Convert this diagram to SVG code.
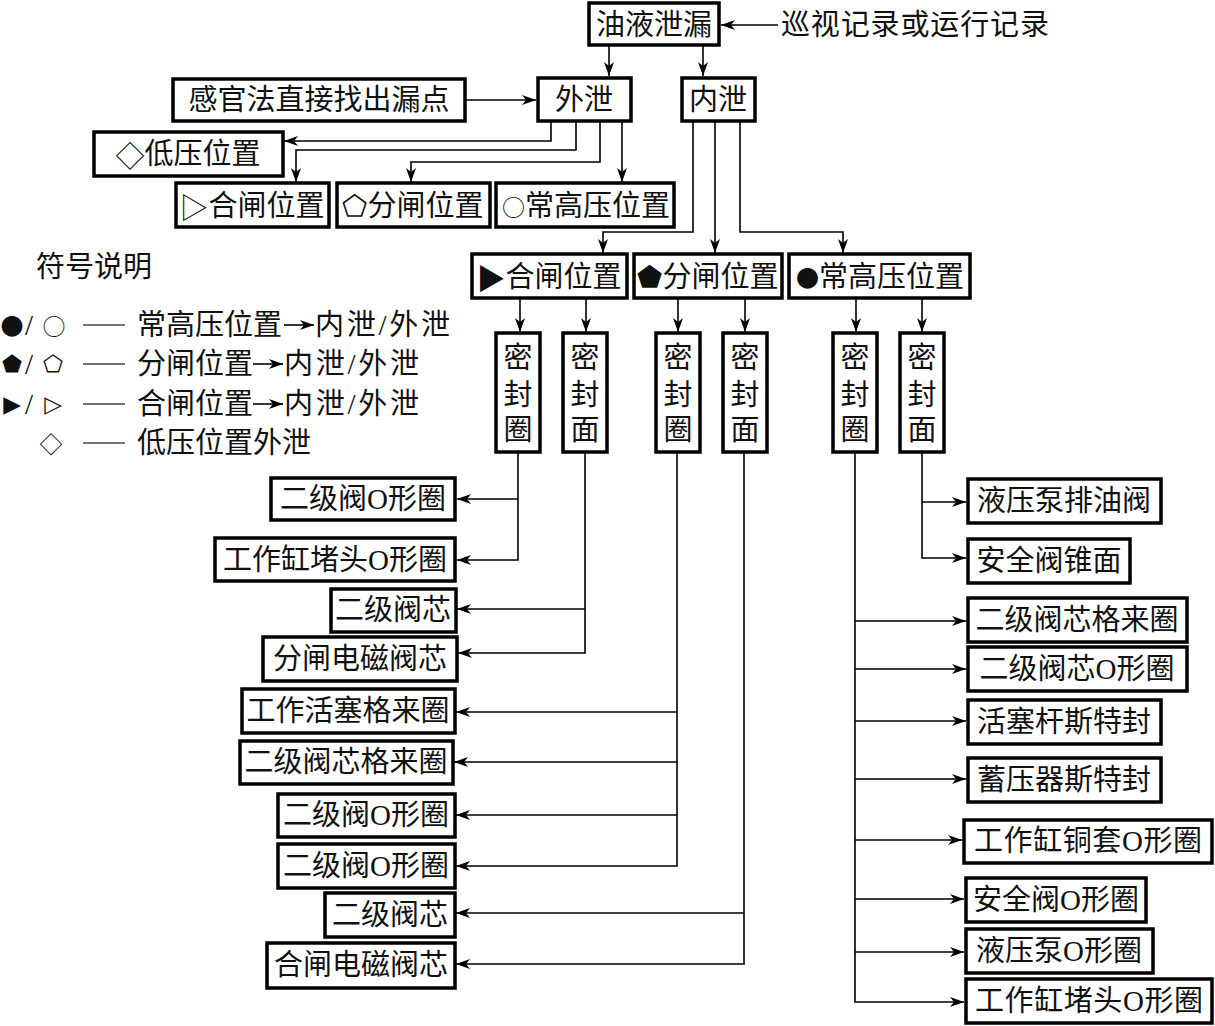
<svg xmlns="http://www.w3.org/2000/svg" width="1215" height="1026" viewBox="0 0 1215 1026">
<style>
.box{fill:#fff;stroke:#000;stroke-width:3.5}
.t{font-family:"Liberation Serif","Noto Sans CJK SC",serif;font-size:29px;fill:#111;text-anchor:middle;dominant-baseline:central}
.sym{font-family:"Noto Sans CJK SC","DejaVu Sans",sans-serif}
.sm{font-family:"Noto Sans CJK SC","DejaVu Sans",sans-serif;font-size:23px}
.s{font-family:"Noto Sans CJK SC","DejaVu Sans",sans-serif;font-size:23px;fill:#111;text-anchor:middle;dominant-baseline:central}
.p{font-family:"DejaVu Sans","Noto Sans CJK SC",sans-serif;font-size:23px;fill:#111;text-anchor:middle;dominant-baseline:central}
.l{font-family:"Liberation Serif","Noto Sans CJK SC",serif;font-size:29px;fill:#111;dominant-baseline:central}
.ar{fill:none;stroke:#000;stroke-width:1.6;marker-end:url(#ah)}
.dash{stroke:#444;stroke-width:1.6}
</style>
<defs>
<marker id="ah" markerUnits="userSpaceOnUse" markerWidth="15" markerHeight="10" refX="14" refY="5" orient="auto">
<path d="M0,0 L14,5 L0,10 L4,5 z" fill="#000"/>
</marker>
</defs>
<rect width="1215" height="1026" fill="#fff"/>

<g id="connectors">
<path class="ar" d="M778,25 H721"/>
<path class="ar" d="M609,46 V76"/>
<path class="ar" d="M703,46 V76"/>
<path class="ar" d="M465,100 H536"/>
<path class="ar" d="M551,122 V141 H284"/>
<path class="ar" d="M576,122 V150 H296 V182"/>
<path class="ar" d="M600,122 V162 H411 V182"/>
<path class="ar" d="M622,122 V182"/>
<path class="ar" d="M693,122 V232 H603 V253"/>
<path class="ar" d="M715,122 V253"/>
<path class="ar" d="M740,122 V232 H843 V253"/>
<path class="ar" d="M520,298 V332"/>
<path class="ar" d="M586,298 V332"/>
<path class="ar" d="M678,298 V332"/>
<path class="ar" d="M745,298 V332"/>
<path class="ar" d="M856,298 V332"/>
<path class="ar" d="M922,298 V332"/>
<path class="ar" d="M518,452 V560 H457"/>
<path class="ar" d="M518,499 H457"/>
<path class="ar" d="M585,452 V653 H458"/>
<path class="ar" d="M585,609 H457"/>
<path class="ar" d="M677,452 V866 H456"/>
<path class="ar" d="M677,712 H456"/>
<path class="ar" d="M677,762 H454"/>
<path class="ar" d="M677,815 H456"/>
<path class="ar" d="M744,452 V964 H456"/>
<path class="ar" d="M744,913 H456"/>
<path class="ar" d="M922,452 V558 H966"/>
<path class="ar" d="M922,502 H966"/>
<path class="ar" d="M855,452 V1002 H964"/>
<path class="ar" d="M855,621 H966"/>
<path class="ar" d="M855,669 H966"/>
<path class="ar" d="M855,721 H966"/>
<path class="ar" d="M855,779 H966"/>
<path class="ar" d="M855,840 H962"/>
<path class="ar" d="M855,899 H964"/>
<path class="ar" d="M855,952 H964"/>
</g>

<g id="n-top"><rect class="box" x="589" y="3" width="130" height="42"/><text class="t" x="654" y="25">油液泄漏</text></g>
<g id="n-record"><text class="l" x="781" y="25" textLength="268">巡视记录或运行记录</text></g>
<g id="n-sense"><rect class="box" x="173" y="79" width="292" height="42"/><text class="t" x="319" y="100">感官法直接找出漏点</text></g>
<g id="n-ext"><rect class="box" x="538" y="78" width="93" height="43"/><text class="t" x="584" y="100">外泄</text></g>
<g id="n-int"><rect class="box" x="682" y="78" width="73" height="43"/><text class="t" x="718" y="100">内泄</text></g>

<g id="n-low"><rect class="box" x="94" y="132" width="189" height="44"/><text class="t" x="188" y="154"><tspan class="sym">◇</tspan>低压位置</text></g>
<g id="n-close-o"><rect class="box" x="176" y="183" width="153" height="44"/><text class="t" x="252" y="206"><tspan class="sym">▷</tspan>合闸位置</text></g>
<g id="n-open-o"><rect class="box" x="337" y="183" width="153" height="44"/><text class="t" x="413" y="206">⬠分闸位置</text></g>
<g id="n-high-o"><rect class="box" x="496" y="183" width="178" height="44"/><text class="t" x="586" y="206"><tspan class="sm">○</tspan>常高压位置</text></g>

<g id="n-close-i"><rect class="box" x="472" y="254" width="155" height="44"/><text class="t" x="549" y="277"><tspan class="sym">▶</tspan>合闸位置</text></g>
<g id="n-open-i"><rect class="box" x="634" y="254" width="148" height="44"/><text class="t" x="708" y="277">⬟分闸位置</text></g>
<g id="n-high-i"><rect class="box" x="789" y="254" width="181" height="44"/><text class="t" x="880" y="277"><tspan class="sm">●</tspan>常高压位置</text></g>

<g id="v1"><rect class="box" x="496" y="333" width="44" height="119"/><text class="t" x="518"><tspan x="518" y="358">密</tspan><tspan x="518" y="395">封</tspan><tspan x="518" y="430">圈</tspan></text></g>
<g id="v2"><rect class="box" x="563" y="333" width="44" height="119"/><text class="t" x="585"><tspan x="585" y="358">密</tspan><tspan x="585" y="395">封</tspan><tspan x="585" y="430">面</tspan></text></g>
<g id="v3"><rect class="box" x="656" y="333" width="44" height="119"/><text class="t" x="678"><tspan x="678" y="358">密</tspan><tspan x="678" y="395">封</tspan><tspan x="678" y="430">圈</tspan></text></g>
<g id="v4"><rect class="box" x="723" y="333" width="44" height="119"/><text class="t" x="745"><tspan x="745" y="358">密</tspan><tspan x="745" y="395">封</tspan><tspan x="745" y="430">面</tspan></text></g>
<g id="v5"><rect class="box" x="833" y="333" width="44" height="119"/><text class="t" x="855"><tspan x="855" y="358">密</tspan><tspan x="855" y="395">封</tspan><tspan x="855" y="430">圈</tspan></text></g>
<g id="v6"><rect class="box" x="900" y="333" width="44" height="119"/><text class="t" x="922"><tspan x="922" y="358">密</tspan><tspan x="922" y="395">封</tspan><tspan x="922" y="430">面</tspan></text></g>

<g id="L1"><rect class="box" x="271" y="478" width="184" height="42"/><text class="t" x="363" y="499">二级阀O形圈</text></g>
<g id="L2"><rect class="box" x="215" y="538" width="240" height="43"/><text class="t" x="335" y="560">工作缸堵头O形圈</text></g>
<g id="L3"><rect class="box" x="331" y="589" width="125" height="43"/><text class="t" x="393" y="610">二级阀芯</text></g>
<g id="L4"><rect class="box" x="263" y="637" width="194" height="44"/><text class="t" x="360" y="659">分闸电磁阀芯</text></g>
<g id="L5"><rect class="box" x="242" y="689" width="213" height="44"/><text class="t" x="348" y="711">工作活塞格来圈</text></g>
<g id="L6"><rect class="box" x="240" y="741" width="213" height="43"/><text class="t" x="346" y="762">二级阀芯格来圈</text></g>
<g id="L7"><rect class="box" x="278" y="794" width="177" height="43"/><text class="t" x="366" y="815">二级阀O形圈</text></g>
<g id="L8"><rect class="box" x="278" y="844" width="177" height="44"/><text class="t" x="366" y="866">二级阀O形圈</text></g>
<g id="L9"><rect class="box" x="325" y="893" width="130" height="44"/><text class="t" x="390" y="915">二级阀芯</text></g>
<g id="L10"><rect class="box" x="267" y="943" width="188" height="45"/><text class="t" x="361" y="965">合闸电磁阀芯</text></g>

<g id="R1"><rect class="box" x="968" y="479" width="193" height="44"/><text class="t" x="1064" y="501">液压泵排油阀</text></g>
<g id="R2"><rect class="box" x="968" y="539" width="162" height="44"/><text class="t" x="1049" y="561">安全阀锥面</text></g>
<g id="R3"><rect class="box" x="968" y="598" width="219" height="44"/><text class="t" x="1077" y="620">二级阀芯格来圈</text></g>
<g id="R4"><rect class="box" x="968" y="647" width="219" height="44"/><text class="t" x="1077" y="669">二级阀芯O形圈</text></g>
<g id="R5"><rect class="box" x="968" y="700" width="193" height="44"/><text class="t" x="1064" y="722">活塞杆斯特封</text></g>
<g id="R6"><rect class="box" x="968" y="758" width="193" height="44"/><text class="t" x="1064" y="780">蓄压器斯特封</text></g>
<g id="R7"><rect class="box" x="964" y="820" width="248" height="43"/><text class="t" x="1088" y="841" textLength="228">工作缸铜套O形圈</text></g>
<g id="R8"><rect class="box" x="966" y="878" width="180" height="44"/><text class="t" x="1056" y="900">安全阀O形圈</text></g>
<g id="R9"><rect class="box" x="966" y="929" width="187" height="44"/><text class="t" x="1059" y="951">液压泵O形圈</text></g>
<g id="R10"><rect class="box" x="966" y="979" width="246" height="44"/><text class="t" x="1089" y="1001" textLength="228">工作缸堵头O形圈</text></g>

<g id="legend">
<text class="l" x="36" y="267">符号说明</text>
<text class="s" x="12" y="325">●</text><text class="l" x="25" y="325">/</text><text class="s" x="54" y="325">○</text>
<line class="dash" x1="83" y1="325" x2="125" y2="325"/>
<text class="l" x="137" y="325">常高压位置</text>
<line class="ar" x1="284" y1="325" x2="314" y2="325"/>
<text class="l" x="315" y="325" textLength="135">内泄/外泄</text>
<text class="p" x="12" y="364">⬟</text><text class="l" x="25" y="364">/</text><text class="p" x="53" y="364">⬠</text>
<line class="dash" x1="83" y1="364" x2="125" y2="364"/>
<text class="l" x="137" y="364">分闸位置</text>
<line class="ar" x1="253" y1="364" x2="283" y2="364"/>
<text class="l" x="284" y="364" textLength="135">内泄/外泄</text>
<text class="p" x="12" y="404">▶</text><text class="l" x="25" y="404">/</text><text class="p" x="53" y="404">▷</text>
<line class="dash" x1="83" y1="404" x2="125" y2="404"/>
<text class="l" x="137" y="404">合闸位置</text>
<line class="ar" x1="253" y1="404" x2="283" y2="404"/>
<text class="l" x="284" y="404" textLength="135">内泄/外泄</text>
<text class="s" x="51" y="443">◇</text>
<line class="dash" x1="83" y1="443" x2="125" y2="443"/>
<text class="l" x="137" y="443">低压位置外泄</text>
</g>
</svg>
